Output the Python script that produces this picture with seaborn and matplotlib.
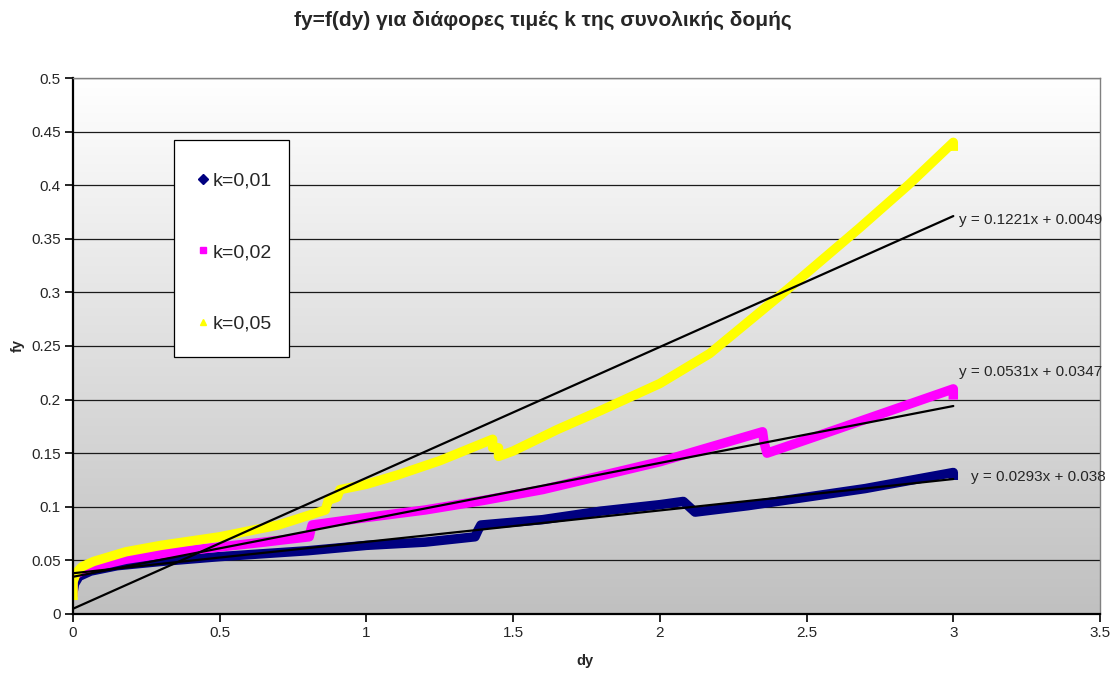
import numpy as np
import pandas as pd
import matplotlib
matplotlib.use("Agg")
import matplotlib.pyplot as plt
import seaborn as sns
from matplotlib.lines import Line2D
from matplotlib.patches import Rectangle
from matplotlib.colors import LinearSegmentedColormap

# ---------------- data ----------------
title = "fy=f(dy) για διάφορες τιμές k της συνολικής δομής"
series_names = ["k=0,01", "k=0,02", "k=0,05"]

dy_k001 = [0.000, 0.005, 0.020, 0.060, 0.150, 0.300, 0.500, 0.800, 1.000, 1.200,
           1.370, 1.380, 1.390, 1.600, 1.800, 2.000, 2.080, 2.100, 2.120, 2.300,
           2.500, 2.700, 2.900, 3.000, 3.000]
fy_k001 = [0.020, 0.028, 0.035, 0.040, 0.045, 0.049, 0.0535, 0.059, 0.064, 0.067,
           0.072, 0.078, 0.083, 0.088, 0.096, 0.102, 0.105, 0.100, 0.095, 0.101,
           0.109, 0.117, 0.127, 0.132, 0.125]

dy_k002 = [0.000, 0.000, 0.010, 0.030, 0.070, 0.180, 0.350, 0.500, 0.650, 0.805,
           0.810, 0.815, 1.000, 1.200, 1.400, 1.600, 1.800, 2.000, 2.150, 2.350,
           2.355, 2.365, 2.600, 2.800, 3.000, 3.000]
fy_k002 = [0.016, 0.032, 0.037, 0.040, 0.044, 0.051, 0.058, 0.0625, 0.067, 0.072,
           0.078, 0.083, 0.090, 0.097, 0.106, 0.116, 0.129, 0.142, 0.154, 0.170,
           0.160, 0.150, 0.172, 0.191, 0.210, 0.200]

dy_k005 = [0.000, 0.000, 0.010, 0.030, 0.070, 0.180, 0.300, 0.500, 0.700, 0.860,
           0.870, 0.900, 0.910, 1.000, 1.110, 1.250, 1.430, 1.430, 1.450, 1.450,
           1.500, 1.650, 1.800, 2.000, 2.170, 2.440, 2.680, 2.850, 3.000, 3.000]
fy_k005 = [0.013, 0.030, 0.038, 0.044, 0.049, 0.058, 0.064, 0.072, 0.083, 0.097,
           0.106, 0.109, 0.116, 0.121, 0.130, 0.143, 0.163, 0.155, 0.155, 0.147,
           0.152, 0.172, 0.190, 0.215, 0.243, 0.304, 0.360, 0.401, 0.440, 0.432]

trend_slopes = [0.0293, 0.0531, 0.1221]
trend_intercepts = [0.038, 0.0347, 0.0049]
trend_labels = ["y = 0.0293x + 0.038", "y = 0.0531x + 0.0347", "y = 0.1221x + 0.0049"]
trend_x = [0.0, 3.0]

x_ticks = [0, 0.5, 1, 1.5, 2, 2.5, 3, 3.5]
y_ticks = [0, 0.05, 0.1, 0.15, 0.2, 0.25, 0.3, 0.35, 0.4, 0.45, 0.5]

# ---------------- styling ----------------
colors = ["#000080", "#FF00FF", "#FFFF00"]
markers = ["D", "s", "^"]

sns.set_theme(style="white")
plt.rcParams['font.family'] = ['Liberation Sans', 'DejaVu Sans']

df = pd.concat([
    pd.DataFrame({"dy": dy_k001, "fy": fy_k001, "k": series_names[0]}),
    pd.DataFrame({"dy": dy_k002, "fy": fy_k002, "k": series_names[1]}),
    pd.DataFrame({"dy": dy_k005, "fy": fy_k005, "k": series_names[2]}),
], ignore_index=True)

fig = plt.figure(figsize=(11.1, 6.73), dpi=100)
fig.patch.set_facecolor("white")
ax = fig.add_axes([0.0658, 0.0877, 0.9252, 0.7964])

# gradient plot-area background
grad = LinearSegmentedColormap.from_list("bg", ["#C0C0C0", "#FFFFFF"])
ax.imshow(np.linspace(0, 1, 256).reshape(-1, 1), extent=[0, 3.5, 0, 0.5],
          origin="lower", aspect="auto", cmap=grad, zorder=0)

# horizontal gridlines
for yv in y_ticks[1:]:
    ax.axhline(yv, color="#1a1a1a", lw=0.9, zorder=1)

sns.lineplot(data=df, x="dy", y="fy", hue="k", hue_order=series_names,
             palette=colors, sort=False, estimator=None, lw=6.8,
             legend=False, ax=ax, zorder=2,
             solid_capstyle="butt", solid_joinstyle="round")

# trendlines
for m, b in zip(trend_slopes, trend_intercepts):
    xs = np.array(trend_x)
    ax.plot(xs, m * xs + b, color="black", lw=1.6, zorder=3)

label_pos = [(3.06, 0.128), (3.02, 0.2255), (3.02, 0.3675)]
for (tx, ty), lab in zip(label_pos, trend_labels):
    ax.text(tx, ty, lab, fontsize=11, ha="left", va="center", zorder=4,
            clip_on=False)

ax.set_xlim(0, 3.5)
ax.set_ylim(0, 0.5)
ax.set_xticks(x_ticks)
ax.set_xticklabels([f"{v:g}" for v in x_ticks])
ax.set_yticks(y_ticks)
ax.set_yticklabels([f"{round(v, 2):g}" for v in y_ticks])
ax.tick_params(axis="both", direction="out", length=6, width=1.2, color="black",
               labelsize=11, pad=3, left=True, bottom=True)

for side in ["left", "bottom"]:
    ax.spines[side].set_color("black")
    ax.spines[side].set_linewidth(1.6)
for side in ["right", "top"]:
    ax.spines[side].set_color("#808080")
    ax.spines[side].set_linewidth(1.0)

ax.set_xlabel("dy", fontsize=10.5, fontweight="bold")
ax.set_ylabel("fy", fontsize=10.5, fontweight="bold")
ax.xaxis.set_label_coords(0.4985, -0.0745)
ax.yaxis.set_label_coords(-0.0467, 0.5)

# legend box (drawn as a frame) + entries
ax.add_patch(Rectangle((0.0982, 0.479), 0.1120, 0.405, transform=ax.transAxes,
                       facecolor="white", edgecolor="black", lw=0.9,
                       zorder=5))
handles = [Line2D([], [], marker=mk, color=c, ls="none", markersize=5)
           for mk, c in zip(markers, colors)]
leg = ax.legend(handles, series_names, loc="upper left",
                bbox_to_anchor=(0.1217, 0.8246), borderaxespad=0,
                frameon=False, fontsize=14, labelspacing=2.77,
                borderpad=0, handlelength=0.5, handletextpad=0.27)
leg.set_zorder(6)

fig.text(0.489, 0.969, title, ha="center", va="center", fontsize=15,
         fontweight="bold")

fig.savefig("out.png", dpi=100)
